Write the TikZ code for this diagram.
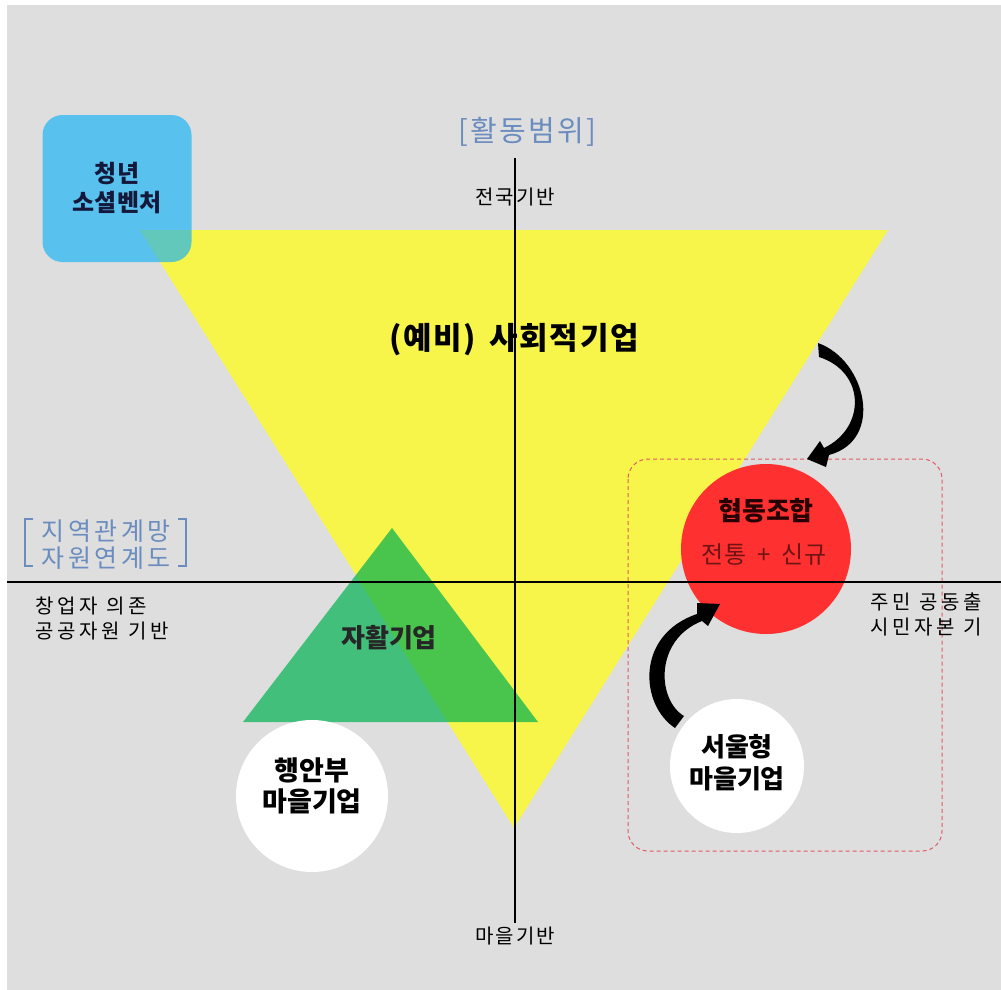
\documentclass[tikz,border=0pt]{standalone}
\usepackage{fontspec}
\setmainfont{Noto Sans CJK KR}
\usetikzlibrary{calc}
\definecolor{bg}{RGB}{222,222,222}
\definecolor{tri}{RGB}{248,245,74}
\definecolor{sky}{RGB}{20,178,246}
\definecolor{grn}{RGB}{0,178,80}
\definecolor{coop}{RGB}{255,48,48}
\definecolor{lbl}{RGB}{106,140,190}
\definecolor{dashred}{RGB}{222,90,100}
\definecolor{navy}{RGB}{20,25,60}
\definecolor{dred}{RGB}{110,20,20}
\newcommand\wsp{\hspace{0.45em}}
\tikzset{
  x=1pt,y=-1pt,
  txt/.style={inner sep=0pt,font=\fontsize{20}{25}\selectfont\addfontfeature{LetterSpace=#1},align=left},
  txt/.default=10,
  axis/.style={line width=1.3pt,black},
  circ/.style={circle,fill=white,inner sep=0pt,minimum size=#1},
  ctext/.style={inner sep=0pt,align=center},
  bigarrow/.style={fill=black},
}
\begin{document}
\begin{tikzpicture}
\useasboundingbox (0,0) rectangle (1001,990);
\fill[white] (0,0) rectangle (1001,990);
\fill[bg] (7,5) rectangle (1001,990);
% yellow triangle
\fill[tri] (140,230) -- (888,230) -- (514,828) -- cycle;
% blue box
\node[fill=sky,fill opacity=0.66,text opacity=1,rounded corners=20pt,minimum width=149pt,minimum height=147pt,inner sep=0pt,align=center,
  font=\fontsize{24}{29}\selectfont\bfseries,text=navy] (youth) at (117,188.5) {청년\\소셜벤처};
% green triangle
\fill[grn,fill opacity=0.7] (243,722) -- (538,722) -- (392,528) -- cycle;
\node[inner sep=0pt,font=\fontsize{26}{30}\selectfont\bfseries,text=black!85] (selfsup) at (389,638) {자활기업};
% dashed box
\draw[dashred,line width=1pt,dash pattern=on 4pt off 3pt,rounded corners=20pt] (628,459) rectangle (942,851);
% red circle
\node[circle,fill=coop,minimum size=170pt,inner sep=0pt] (coopc) at (766,549) {};
\node[inner sep=0pt,font=\fontsize{26}{30}\selectfont\bfseries,text=black!85!red] (cooptxt) at (766,511) {협동조합};
\node[inner sep=0pt,font=\fontsize{24}{28}\selectfont\addfontfeature{LetterSpace=4},text=dred] (coopsub) at (764,555) {전통\wsp+\wsp 신규};
% white circles
\node[circ=152pt] (mois) at (312,796) {};
\node[ctext,font=\fontsize{27}{31}\selectfont\bfseries] (moistxt) at (312,786) {행안부\\마을기업};
\node[circ=134pt] (seoul) at (737,766) {};
\node[ctext,font=\fontsize{26}{32}\selectfont\bfseries] (seoultxt) at (737,763) {서울형\\마을기업};
% social enterprise label
\node[inner sep=0pt,font=\fontsize{31}{34}\selectfont\bfseries\addfontfeature{LetterSpace=5}] (soc) at (514,340) {(예비)\wsp 사회적기업};
% axes
\coordinate (vtop) at (515,158);
\coordinate (vbot) at (515,923);
\coordinate (hl) at (7,582);
\coordinate (hr) at (1001,582);
\draw[axis] (vtop) -- (vbot);
\draw[axis] (hl) -- (hr);
% axis labels
\node[inner sep=0pt,text=lbl,font=\fontsize{29}{32}\selectfont\addfontfeature{LetterSpace=8}] (range) at (527,132) {[활동범위]};
\node[txt] (nat) at (515,197) {전국기반};
\node[txt] (vil) at (515,936) {마을기반};
\node[txt=18,anchor=north west] (left) at (35,597) {창업자\wsp 의존\\공공자원\wsp 기반};
\node[txt=18,anchor=north west] (right) at (870,593) {주민\wsp 공동출\\시민자본\wsp 기};
% network label with brackets
\node[inner sep=0pt,text=lbl,align=center,font=\fontsize{25}{27}\selectfont\addfontfeature{LetterSpace=14}] (net) at (106,545) {지역관계망\\자원연계도};
\draw[lbl,line width=2pt] (33,519) -- (25,519) -- (25,566) -- (33,566);
\draw[lbl,line width=2pt] (178,519) -- (186,519) -- (186,566) -- (178,566);
% curved arrows
\fill[bigarrow] (818,343) .. controls (866,360) and (885,440) .. (829,455) -- (826,467) -- (807,459) -- (820,441) -- (824,448) .. controls (866,428) and (866,372) .. (819,357) -- cycle;
\fill[bigarrow] (675,728) .. controls (640,705) and (635,635) .. (697,614) -- (697,603) -- (720,604) -- (708,626) -- (702,621) .. controls (654,640) and (657,700) .. (684,716) -- cycle;
\end{tikzpicture}
\end{document}
